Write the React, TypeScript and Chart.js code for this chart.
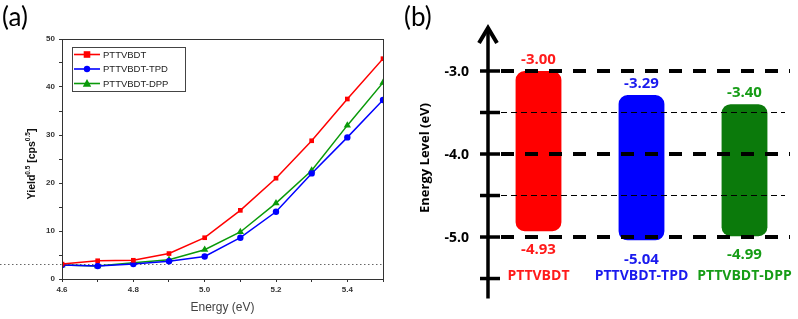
import React, { useEffect, useRef } from 'react';
import { Chart, registerables } from 'chart.js';

Chart.register(...registerables);

// ---------- Panel (a) data ----------
const energies = [4.6, 4.7, 4.8, 4.9, 5.0, 5.1, 5.2, 5.3, 5.4, 5.5];
const yieldPTTVBDT = [3.1, 3.8, 3.9, 5.3, 8.6, 14.3, 21.0, 28.8, 37.5, 45.9];
const yieldTPD = [2.9, 2.7, 3.1, 3.7, 4.7, 8.6, 14.0, 22.0, 29.5, 37.3];
const yieldDPP = [2.9, 2.7, 3.4, 4.0, 6.1, 9.8, 15.8, 22.6, 32.0, 40.9];
const seriesNames = ['PTTVBDT', 'PTTVBDT-TPD', 'PTTVBDT-DPP'];
const baselineYield = 3.2;

// ---------- Panel (b) data ----------
const materials = ['PTTVBDT', 'PTTVBDT-TPD', 'PTTVBDT-DPP'];
const lumoLevels = [-3.0, -3.29, -3.4];
const homoLevels = [-4.93, -5.04, -4.99];
const majorLevels = [-3.0, -4.0, -5.0];
const minorLevels = [-3.5, -4.5];
const axisTickLevels = [-3.0, -3.5, -4.0, -4.5, -5.0, -5.5];

const lineColors = ['#ff0000', '#0000ff', '#0a9a0a'];
const barColors = ['#ff0000', '#0000ff', '#0b7a0b'];
const textColors = ['#ff1a1a', '#1a1aee', '#169c16'];

const fontB = '"Open Sans", "Noto Sans", sans-serif';

function drawMarker(ctx: CanvasRenderingContext2D, style: string, x: number, y: number, r: number, color: string) {
  ctx.save();
  ctx.fillStyle = color;
  ctx.beginPath();
  if (style === 'rect') {
    ctx.rect(x - r, y - r, 2 * r, 2 * r);
  } else if (style === 'circle') {
    ctx.arc(x, y, r, 0, Math.PI * 2);
  } else {
    ctx.moveTo(x, y - r * 1.1);
    ctx.lineTo(x + r, y + r * 0.75);
    ctx.lineTo(x - r, y + r * 0.75);
    ctx.closePath();
  }
  ctx.fill();
  ctx.restore();
}

function PanelA() {
  const ref = useRef<HTMLCanvasElement | null>(null);
  useEffect(() => {
    if (!ref.current) return;
    const series = [yieldPTTVBDT, yieldTPD, yieldDPP];
    const styles = ['rect', 'circle', 'triangle'];
    const radii = [3.3, 3.2, 4.2];

    const extras = {
      id: 'panelAExtras',
      beforeDatasetsDraw(chart: any) {
        const { ctx, chartArea, scales } = chart;
        const y = Math.round(scales.y.getPixelForValue(baselineYield)) + 0.5;
        ctx.save();
        ctx.strokeStyle = '#666';
        ctx.lineWidth = 1;
        ctx.setLineDash([1.5, 2.5]);
        ctx.beginPath();
        ctx.moveTo(0, y);
        ctx.lineTo(chartArea.right, y);
        ctx.stroke();
        ctx.restore();
      },
      afterDraw(chart: any) {
        const { ctx, chartArea } = chart;
        ctx.save();
        // frame
        ctx.strokeStyle = '#333';
        ctx.lineWidth = 1;
        ctx.strokeRect(Math.round(chartArea.left) + 0.5, Math.round(chartArea.top) + 0.5,
          Math.round(chartArea.right - chartArea.left), Math.round(chartArea.bottom - chartArea.top));
        // legend
        const bx = 72.5, by = 47.5, bw = 113, bh = 44;
        ctx.strokeStyle = '#444';
        ctx.strokeRect(bx, by, bw, bh);
        chart.data.datasets.forEach((ds: any, i: number) => {
          const ly = 54.5 + i * 14.5;
          ctx.strokeStyle = ds.borderColor;
          ctx.lineWidth = 1.6;
          ctx.beginPath();
          ctx.moveTo(74, ly);
          ctx.lineTo(100, ly);
          ctx.stroke();
          drawMarker(ctx, styles[i], 87, ly, radii[i], ds.borderColor);
          ctx.fillStyle = '#222';
          ctx.font = '9.5px "Liberation Sans", Arial, sans-serif';
          ctx.textBaseline = 'middle';
          ctx.textAlign = 'left';
          ctx.fillText(ds.label, 103, ly + 0.5);
        });
        // y title with superscripts
        ctx.translate(31, 164);
        ctx.rotate(-Math.PI / 2);
        const main = 'bold 10.5px "Liberation Sans", Arial, sans-serif';
        const sup = 'bold 6.5px "Liberation Sans", Arial, sans-serif';
        const parts: [string, boolean][] = [['Yield', false], ['0.5', true], [' [cps', false], ['0.5', true], [']', false]];
        let total = 0;
        parts.forEach(([t, s]) => { ctx.font = s ? sup : main; total += ctx.measureText(t).width; });
        let x = -total / 2;
        ctx.fillStyle = '#111';
        ctx.textAlign = 'left';
        ctx.textBaseline = 'alphabetic';
        parts.forEach(([t, s]) => {
          ctx.font = s ? sup : main;
          ctx.fillText(t, x, s ? -1 : 4);
          x += ctx.measureText(t).width;
        });
        ctx.restore();
      },
    };

    const chart = new Chart(ref.current, {
      type: 'line',
      data: {
        datasets: series.map((s, i) => ({
          label: seriesNames[i],
          data: energies.map((e, j) => ({ x: e, y: s[j] })),
          borderColor: lineColors[i],
          backgroundColor: lineColors[i],
          borderWidth: 1.5,
          pointStyle: styles[i] as any,
          pointRadius: radii[i],
          pointBorderWidth: 0,
          tension: 0,
        })),
      },
      options: {
        animation: false,
        responsive: false,
        devicePixelRatio: 1,
        layout: { padding: { left: 0, right: 17, top: 39, bottom: 0 } },
        plugins: { legend: { display: false }, tooltip: { enabled: false } },
        scales: {
          x: {
            type: 'linear',
            min: 4.6,
            max: 5.5,
            afterFit: (s: any) => { s.height = 40; },
            ticks: {
              stepSize: 0.1,
              autoSkip: false,
              maxRotation: 0,
              padding: 3,
              color: '#333',
              font: { family: '"Liberation Sans", Arial, sans-serif', weight: 'bold', size: 8 },
              callback: (v: any) => (Math.round(Number(v) * 10) % 2 === 0 ? Number(v).toFixed(1) : ''),
            },
            grid: { drawOnChartArea: false, tickLength: 3, color: '#333' },
            border: { color: '#333' },
            title: {
              display: true,
              text: 'Energy (eV)',
              color: '#444',
              font: { family: '"Liberation Sans", Arial, sans-serif', size: 12 },
              padding: { top: 0, bottom: 4 },
            },
          },
          y: {
            min: 0,
            max: 50,
            afterFit: (s: any) => { s.width = 62; },
            ticks: {
              stepSize: 5,
              padding: 4,
              color: '#333',
              font: { family: '"Liberation Sans", Arial, sans-serif', weight: 'bold', size: 8 },
              callback: (v: any) => (Number(v) % 10 === 0 ? String(v) : ''),
            },
            grid: { drawOnChartArea: false, tickLength: 3, color: '#333' },
            border: { color: '#333' },
          },
        },
      },
      plugins: [extras],
    } as any);
    return () => chart.destroy();
  }, []);
  return <canvas ref={ref} width={400} height={319} style={{ position: 'absolute', left: 0, top: 0, width: 400, height: 319 }} />;
}

function PanelB() {
  const ref = useRef<HTMLCanvasElement | null>(null);
  useEffect(() => {
    if (!ref.current) return;
    const font = (size: number) => `bold ${size}px ${fontB}`;
    const extras = {
      id: 'panelBExtras',
      afterDatasetsDraw(chart: any) {
        const { ctx, chartArea } = chart;
        const ys = chart.scales.y;
        const x0 = chartArea.left + 1;
        const lineEnd = chartArea.right - 6;
        ctx.save();
        ctx.strokeStyle = '#000';
        // thin dashed lines
        ctx.lineWidth = 1.2;
        ctx.setLineDash([6, 4]);
        minorLevels.forEach((v) => {
          const y = ys.getPixelForValue(v);
          ctx.beginPath();
          ctx.moveTo(x0 + 13, y);
          ctx.lineTo(lineEnd - 5, y);
          ctx.stroke();
        });
        // thick dashed lines
        ctx.lineWidth = 4;
        ctx.setLineDash([13, 11]);
        majorLevels.forEach((v) => {
          const y = ys.getPixelForValue(v);
          ctx.beginPath();
          ctx.moveTo(x0 + 13, y);
          ctx.lineTo(lineEnd, y);
          ctx.stroke();
        });
        ctx.setLineDash([]);
        // axis line
        const bottomY = ys.getPixelForValue(axisTickLevels[axisTickLevels.length - 1]) + 20;
        ctx.lineWidth = 3.5;
        ctx.beginPath();
        ctx.moveTo(x0, bottomY);
        ctx.lineTo(x0, chartArea.top + 2);
        ctx.stroke();
        // arrow head
        ctx.lineWidth = 4;
        ctx.lineJoin = 'miter';
        ctx.beginPath();
        ctx.moveTo(x0 - 9, chartArea.top + 16);
        ctx.lineTo(x0, chartArea.top + 1);
        ctx.lineTo(x0 + 9, chartArea.top + 16);
        ctx.stroke();
        // ticks
        ctx.lineWidth = 3.5;
        axisTickLevels.forEach((v) => {
          const y = ys.getPixelForValue(v);
          ctx.beginPath();
          ctx.moveTo(x0 - 8, y);
          ctx.lineTo(x0 + 12, y);
          ctx.stroke();
        });
        // tick labels
        ctx.fillStyle = '#000';
        ctx.font = font(14);
        ctx.textAlign = 'right';
        ctx.textBaseline = 'middle';
        majorLevels.forEach((v) => {
          ctx.fillText(v.toFixed(1), x0 - 19, ys.getPixelForValue(v) + 1);
        });
        // value labels
        const meta = chart.getDatasetMeta(0);
        ctx.textAlign = 'center';
        ctx.font = font(15);
        meta.data.forEach((bar: any, i: number) => {
          ctx.fillStyle = textColors[i];
          ctx.fillText(lumoLevels[i].toFixed(2), bar.x, ys.getPixelForValue(lumoLevels[i]) - 11);
          ctx.fillText(homoLevels[i].toFixed(2), bar.x, ys.getPixelForValue(homoLevels[i]) + 19);
        });
        // y title
        ctx.fillStyle = '#000';
        ctx.translate(25, 158);
        ctx.rotate(-Math.PI / 2);
        ctx.font = font(13);
        ctx.textAlign = 'center';
        ctx.fillText('Energy Level (eV)', 0, 0);
        ctx.restore();
      },
    };
    const chart = new Chart(ref.current, {
      type: 'bar',
      data: {
        labels: materials,
        datasets: [
          {
            data: lumoLevels.map((l, i) => [l, homoLevels[i]]),
            backgroundColor: barColors,
            borderWidth: 0,
            borderRadius: 9,
            borderSkipped: false,
            barPercentage: 0.445,
            categoryPercentage: 1,
          },
        ],
      },
      options: {
        animation: false,
        responsive: false,
        devicePixelRatio: 1,
        layout: { padding: { left: 87, right: 2, top: 27, bottom: 0 } },
        plugins: { legend: { display: false }, tooltip: { enabled: false } },
        scales: {
          x: {
            afterFit: (s: any) => { s.height = 54; },
            grid: { display: false, drawTicks: false },
            border: { display: false },
            ticks: {
              padding: 3,
              autoSkip: false,
              maxRotation: 0,
              color: (c: any) => textColors[c.index],
              font: { family: fontB, weight: 'bold', size: 14 },
            },
          },
          y: { display: false, min: -5.337, max: -2.47 },
        },
      },
      plugins: [extras],
    } as any);
    return () => chart.destroy();
  }, []);
  return <canvas ref={ref} width={398} height={319} style={{ position: 'absolute', left: 400, top: 0, width: 398, height: 319 }} />;
}

export default function App() {
  const label: React.CSSProperties = {
    position: 'absolute',
    top: 1,
    font: '26px Lato, "Open Sans", sans-serif',
    lineHeight: '30px',
    color: '#000',
  };
  return (
    <div style={{ position: 'absolute', left: 0, top: 0, width: 798, height: 319, background: '#fff', overflow: 'hidden' }}>
      <PanelA />
      <PanelB />
      <div style={{ ...label, left: 2 }}>(a)</div>
      <div style={{ ...label, left: 404 }}>(b)</div>
    </div>
  );
}
